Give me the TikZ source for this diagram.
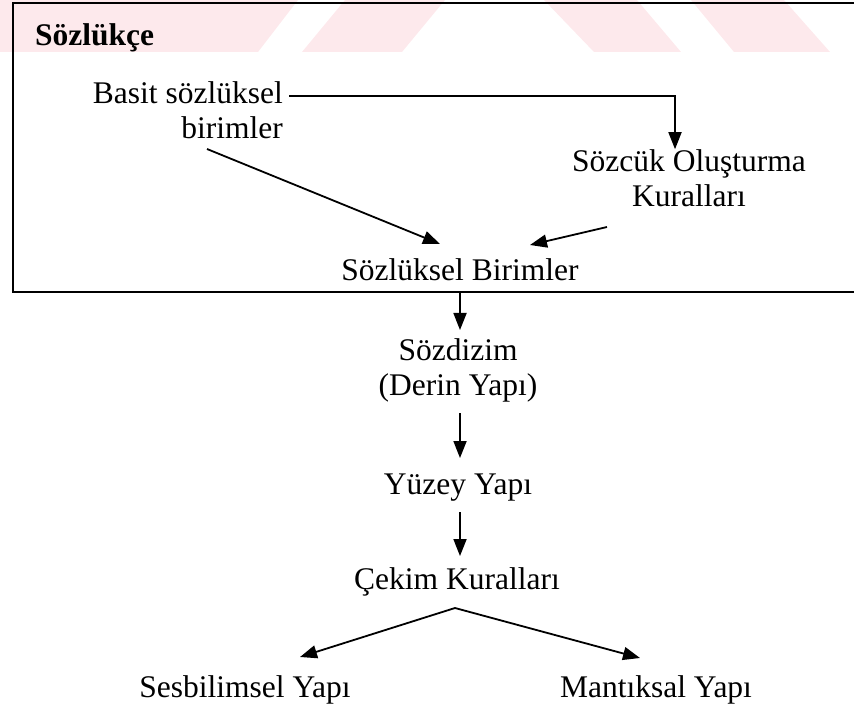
\documentclass[tikz,border=0pt]{standalone}
\usepackage{fontspec}
\setmainfont{Liberation Serif}
\usetikzlibrary{arrows.meta}
\definecolor{wmpink}{RGB}{253,233,236}
\tikzset{
  lbl/.style={inner sep=0pt, font=\fontsize{31.5}{35}\selectfont, align=center},
  conn/.style={line width=1.8pt},
  arr/.style={conn, -{Triangle[length=17pt,width=13pt]}},
  frame/.style={line width=2.4pt}
}
\begin{document}
\begin{tikzpicture}[x=1pt,y=-1pt]
\useasboundingbox (0,0) rectangle (854,711);
\clip (0,0) rectangle (854,711);
% pale diagonal bands across the top
\fill[wmpink] (0,0) -- (298,0) -- (258,52) -- (0,52) -- cycle;
\fill[wmpink] (345,0) -- (445,0) -- (402,52) -- (302,52) -- cycle;
\fill[wmpink] (544,0) -- (637,0) -- (681,52) -- (594,52) -- cycle;
\fill[wmpink] (691,0) -- (784,0) -- (830,52) -- (734,52) -- cycle;
% lexicon frame, open to the right
\draw[frame] (870,3) -- (13,3) -- (13,292) -- (870,292);
% labels
\node[lbl, anchor=west, font=\fontsize{31.5}{35}\selectfont\bfseries] (sozlukce) at (35,38) {Sözlükçe};
\node[lbl, align=right, anchor=east] (basit) at (283,110) {Basit sözlüksel\\birimler};
\node[lbl] (sozcuk) at (689,178) {Sözcük Oluşturma\\Kuralları};
\node[lbl] (sozbir) at (460,270) {Sözlüksel Birimler};
\node[lbl] (sozdizim) at (458,370) {Sözdizim\\(Derin Yapı)};
\node[lbl] (yuzey) at (458,488) {Yüzey Yapı};
\node[lbl] (cekim) at (457,582) {Çekim Kuralları};
\node[lbl] (ses) at (245,690) {Sesbilimsel Yapı};
\node[lbl] (mantik) at (656,690) {Mantıksal Yapı};
% connector end points
\coordinate (b1) at (289,96);
\coordinate (b2) at (675,96);
\coordinate (b3) at (207,149);
\coordinate (k1) at (607,227);
\coordinate (f1) at (460,292);
\coordinate (c1) at (455,608);
% connectors
\draw[arr] (b1) -- (b2) -- (b2 |- sozcuk.north);
\draw[arr] (b3) -- (440,244);
\draw[arr] (k1) -- (530,245);
\draw[arr] (f1) -- (460,330);
\draw[arr] (460,413) -- (460,458);
\draw[arr] (460,512) -- (460,556);
\draw[arr] (c1) -- (300,657);
\draw[arr] (c1) -- (640,658);
\end{tikzpicture}
\end{document}
